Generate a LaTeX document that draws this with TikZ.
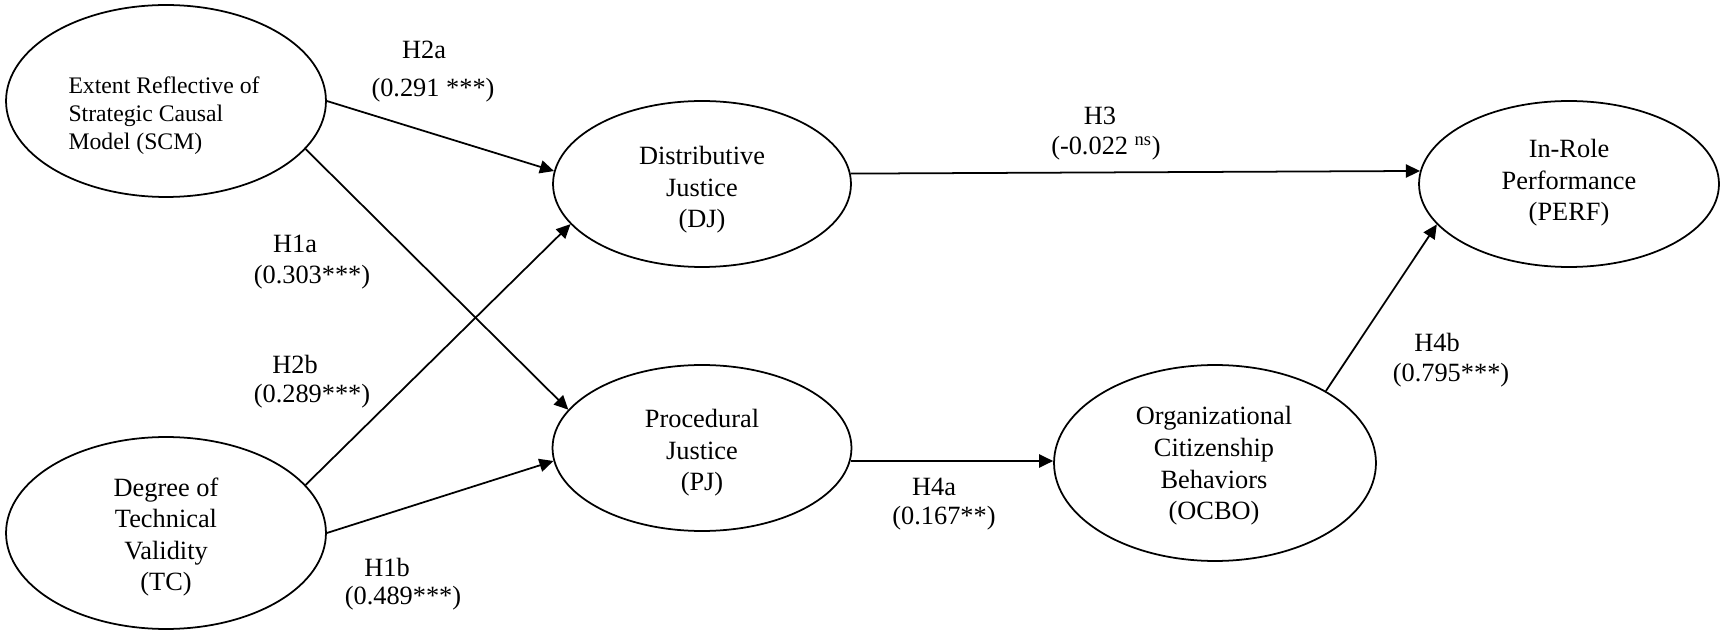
\documentclass[tikz,border=0pt]{standalone}
\usepackage{fontspec}
\setmainfont{Liberation Serif}
\usetikzlibrary{shapes.geometric,arrows.meta}
\begin{document}
\begin{tikzpicture}[x=0.02cm,y=-0.02cm,
  lat/.style={draw, ellipse, line width=1pt, inner sep=0pt},
  txt/.style={font=\fontsize{15}{18}\selectfont, align=center, inner sep=0pt},
  lbl/.style={font=\fontsize{15}{18}\selectfont, inner sep=0pt},
  arr/.style={-{Triangle[length=8pt,width=7.5pt]}, line width=1pt}]
\path[use as bounding box] (0,0) rectangle (1721,631);
% latent constructs
\node[lat, minimum width=6.4cm, minimum height=3.84cm] (scm) at (166,101) {};
\node[lat, minimum width=6.4cm, minimum height=3.84cm] (tc) at (166,533) {};
\node[lat, minimum width=5.96cm, minimum height=3.32cm] (dj) at (702,184) {};
\node[lat, minimum width=5.98cm, minimum height=3.32cm] (pj) at (702,448) {};
\node[lat, minimum width=6.44cm, minimum height=3.92cm] (ocbo) at (1215,463) {};
\node[lat, minimum width=6.0cm, minimum height=3.32cm] (perf) at (1569,184) {};
% texts
\node[txt, align=left, font=\fontsize{13.5}{16}\selectfont] (scmt) at (164,116) {Extent Reflective of\\Strategic Causal\\Model (SCM)};
\node[txt] (tct) at (166,537) {Degree of\\Technical\\Validity\\(TC)};
\node[txt] (djt) at (702,190) {Distributive\\Justice\\(DJ)};
\node[txt] (pjt) at (702,453) {Procedural\\Justice\\(PJ)};
\node[txt] (ocbot) at (1214,466) {Organizational\\Citizenship\\Behaviors\\(OCBO)};
\node[txt] (perft) at (1569,183) {In-Role\\Performance\\(PERF)};
% path labels
\node[lbl] (h2a) at (424,50) {H2a};
\node[lbl] (h2av) at (433,90) {(0.291 ***)};
\node[lbl] (h1a) at (295,244) {H1a};
\node[lbl] (h1av) at (312,277) {(0.303***)};
\node[lbl] (h2b) at (295,364) {H2b};
\node[lbl] (h2bv) at (312,396) {(0.289***)};
\node[lbl] (h1b) at (387,567) {H1b};
\node[lbl] (h1bv) at (403,598) {(0.489***)};
\node[lbl] (h3) at (1100,116) {H3};
\node[lbl] (h3v) at (1106,148) {(-0.022 \textsuperscript{ns})};
\node[lbl] (h4a) at (934,487) {H4a};
\node[lbl] (h4av) at (944,518) {(0.167**)};
\node[lbl] (h4b) at (1437,342) {H4b};
\node[lbl] (h4bv) at (1451,375) {(0.795***)};
% paths
\draw[arr] (scm.-0.4) -- (dj.175.8);
\draw[arr] (scm.-19.5) -- (pj.164.5);
\draw[arr] (tc.19.9) -- (dj.197);
\draw[arr] (tc.0) -- (pj.185.3);
\draw[arr] (dj.4.2) -- (perf.175.8);
\draw[arr] (pj.-5) -- (pj.-5 -| ocbo.west);
\draw[arr] (ocbo.33.6) -- (perf.197);
\end{tikzpicture}
\end{document}
